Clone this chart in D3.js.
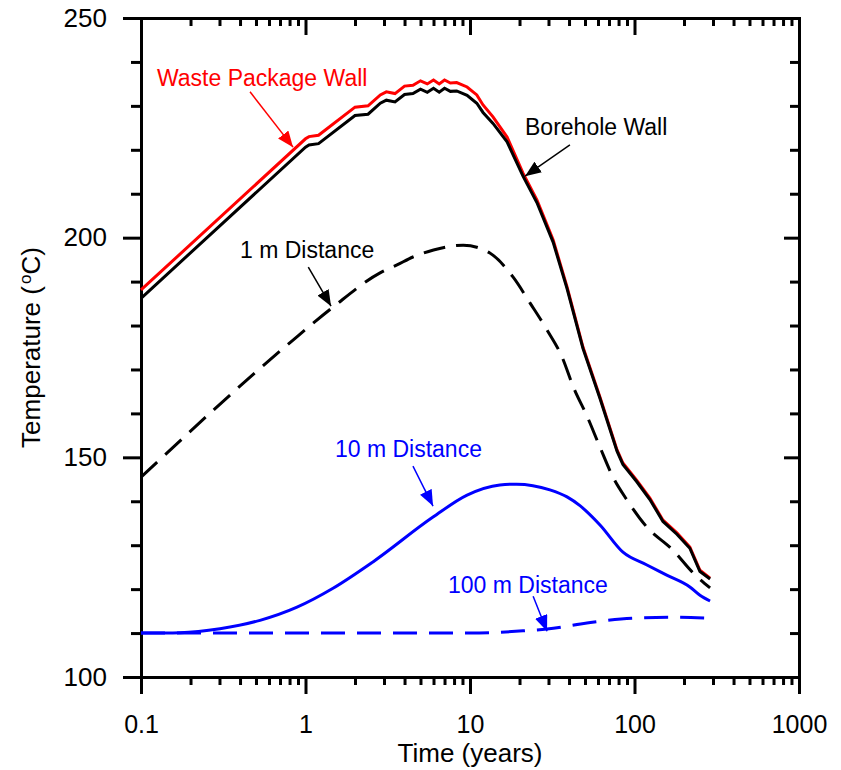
<!DOCTYPE html>
<html>
<head>
<meta charset="utf-8">
<script src="https://cdnjs.cloudflare.com/ajax/libs/d3/7.8.5/d3.min.js"></script>
<style>
  body { margin: 0; background: #fff; }
  svg { display: block; }
  .axis path, .axis line { stroke: #000; stroke-width: 3; }
  .axis path { stroke-linecap: square; }
</style>
</head>
<body>
<div id="chart"></div>
<script>
// tick labels
const timeMajor = [0.1, 1, 10, 100, 1000];
const tempMajor = [100, 150, 200, 250];

// waste package wall and borehole wall share the same time points
const wallTime = [0.1, 1.0, 1.05, 1.2, 2.0, 2.4, 2.85, 3.1, 3.5, 4.0, 4.5, 5.0, 5.5, 6.0, 6.5, 7.0, 7.6, 8.3, 9.6, 11, 12, 13.8, 16.8, 21, 25.5, 32, 38.9, 48.6, 61.7, 78.3, 85, 103, 124, 149, 181, 217, 250, 288];
const packageTemp = [188.1, 222.5, 223.0, 223.3, 229.7, 230.0, 232.5, 233.2, 232.8, 234.5, 234.7, 235.7, 235.0, 235.9, 235.0, 235.9, 235.2, 235.3, 234.3, 232.5, 230.2, 227.5, 222.9, 214.7, 208.6, 199.5, 188.8, 175.1, 163.7, 151.7, 148.7, 144.8, 140.7, 135.7, 132.8, 129.6, 124.3, 122.5];
const boreholeTemp = [186.2, 220.6, 221.1, 221.4, 227.8, 228.1, 230.6, 231.3, 230.9, 232.6, 232.8, 233.8, 233.1, 234.0, 233.1, 234.0, 233.3, 233.4, 232.4, 230.6, 228.5, 226.0, 221.8, 214.0, 208.0, 199.0, 188.4, 174.8, 163.4, 151.4, 148.4, 144.5, 140.4, 135.4, 132.5, 129.3, 124.0, 122.3];

const oneTime = [0.1, 0.84, 1.47, 2.84, 3.6, 4.5, 6.0, 9.1, 13.2, 18.3, 23.2, 29.4, 36.3, 42.5, 51.7, 61.7, 74, 90, 119, 171, 227, 288];
const oneTemp = [145.5, 176.7, 184.2, 192.0, 193.8, 195.6, 197.2, 198.3, 196.5, 191.0, 185.1, 179.0, 172.8, 166.0, 159.2, 152.3, 145.5, 140.3, 134.1, 128.9, 123.7, 120.3];

const tenTime = [0.1, 0.173, 0.302, 0.529, 0.888, 1.47, 2.57, 5.96, 9.6, 15.2, 19.2, 30.6, 38.9, 46.6, 61.7, 85.1, 119, 157, 217, 250, 288];
const tenTemp = [110, 110.1, 111, 112.9, 115.9, 120.2, 126.2, 136.4, 141.4, 143.7, 143.9, 142.6, 141.0, 139.0, 134.6, 128.4, 125.5, 123.2, 120.5, 118.6, 117.3];

const hundredTime = [0.1, 10, 21, 29.4, 51.4, 98, 171, 288];
const hundredTemp = [110, 110, 110.5, 110.9, 112.3, 113.4, 113.6, 113.4];

var margin = { top: 18, right: 42, bottom: 93, left: 141 },
  width = 841 - margin.left - margin.right,
  height = 770 - margin.top - margin.bottom;

var font = "Arial, 'Liberation Sans', sans-serif";

var svg = d3.select("#chart")
  .append("svg")
  .attr("width", 841)
  .attr("height", 770)
  .append("g")
  .attr("transform", "translate(" + margin.left + "," + margin.top + ")");

var x = d3.scaleLog().domain([0.1, 1000]).range([0, width]);
var y = d3.scaleLinear().domain([100, 250]).range([height, 0]);

var timeMinor = x.ticks().filter(function (d) { return timeMajor.indexOf(d) < 0; });
var tempMinor = d3.range(100, 251, 10).filter(function (d) { return tempMajor.indexOf(d) < 0; });

// minor ticks first, then major axes with the frame lines
svg.append("g").attr("class", "axis")
  .attr("transform", "translate(0," + height + ")")
  .call(d3.axisBottom(x).tickValues(timeMinor).tickSize(8).tickFormat(""));
svg.append("g").attr("class", "axis")
  .call(d3.axisTop(x).tickValues(timeMinor).tickSize(-8).tickFormat(""));
svg.append("g").attr("class", "axis")
  .call(d3.axisLeft(y).tickValues(tempMinor).tickSize(10).tickFormat(""));
svg.append("g").attr("class", "axis")
  .attr("transform", "translate(" + width + ",0)")
  .call(d3.axisRight(y).tickValues(tempMinor).tickSize(-9).tickFormat(""));
svg.selectAll(".axis .domain").remove();

var xAxis = svg.append("g").attr("class", "axis")
  .attr("transform", "translate(0," + height + ")")
  .call(d3.axisBottom(x).tickValues(timeMajor).tickSize(17).tickSizeOuter(0).tickPadding(21)
    .tickFormat(function (d) { return String(d); }));
svg.append("g").attr("class", "axis")
  .call(d3.axisTop(x).tickValues(timeMajor).tickSize(-17).tickSizeOuter(0).tickFormat(""));
var yAxis = svg.append("g").attr("class", "axis")
  .call(d3.axisLeft(y).tickValues(tempMajor).tickSize(18).tickSizeOuter(0).tickPadding(16));
svg.append("g").attr("class", "axis")
  .attr("transform", "translate(" + width + ",0)")
  .call(d3.axisRight(y).tickValues(tempMajor).tickSize(-15).tickSizeOuter(0).tickFormat(""));

svg.selectAll(".axis").attr("font-family", font).attr("font-size", 26);
xAxis.attr("font-size", 25);
svg.selectAll(".axis text").attr("fill", "#000");

// axis titles
svg.append("text")
  .attr("x", width / 2)
  .attr("y", 762 - margin.top)
  .attr("text-anchor", "middle")
  .attr("font-family", font)
  .attr("font-size", 26)
  .text("Time (years)");

var yt = svg.append("text")
  .attr("transform", "translate(" + (40 - margin.left) + "," + (height / 2) + ") rotate(-90)")
  .attr("text-anchor", "middle")
  .attr("font-family", font)
  .attr("font-size", 26);
yt.append("tspan").text("Temperature (");
yt.append("tspan").attr("dy", -9).attr("dx", 2).attr("font-size", 17).text("o");
yt.append("tspan").attr("dy", 9).text("C)");

// curves
function series(t, v) {
  return t.map(function (d, i) { return [d, v[i]]; });
}
var lineJag = d3.line()
  .x(function (d) { return x(d[0]); })
  .y(function (d) { return y(d[1]); });
var lineSmooth = d3.line()
  .x(function (d) { return x(d[0]); })
  .y(function (d) { return y(d[1]); })
  .curve(d3.curveMonotoneX);

svg.append("path").datum(series(wallTime, packageTemp))
  .attr("d", lineJag).attr("fill", "none").attr("stroke", "#ff0000").attr("stroke-width", 3);
svg.append("path").datum(series(wallTime, boreholeTemp))
  .attr("d", lineJag).attr("fill", "none").attr("stroke", "#000").attr("stroke-width", 3);
svg.append("path").datum(series(oneTime, oneTemp))
  .attr("d", lineSmooth).attr("fill", "none").attr("stroke", "#000").attr("stroke-width", 3)
  .attr("stroke-dasharray", "22,11");
svg.append("path").datum(series(tenTime, tenTemp))
  .attr("d", lineSmooth).attr("fill", "none").attr("stroke", "#0000ff").attr("stroke-width", 3);
svg.append("path").datum(series(hundredTime, hundredTemp))
  .attr("d", lineSmooth).attr("fill", "none").attr("stroke", "#0000ff").attr("stroke-width", 3)
  .attr("stroke-dasharray", "24,12");

// annotations: text anchor and arrow, in data units
var notes = [
  { text: "Waste Package Wall", color: "#ff0000", at: [0.125, 234.5], from: [0.46, 233.2], to: [0.84, 220.6] },
  { text: "Borehole Wall", color: "#000000", at: [21.6, 223.4], from: [40.5, 221.1], to: [21.6, 214.0] },
  { text: "1 m Distance", color: "#000000", at: [0.40, 195.4], from: [1.04, 193.3], to: [1.43, 184.4] },
  { text: "10 m Distance", color: "#0000ff", at: [1.51, 150.1], from: [4.5, 148.0], to: [5.96, 138.9] },
  { text: "100 m Distance", color: "#0000ff", at: [7.35, 119.1], from: [24.2, 118.4], to: [29.4, 110.4] }
];

var defs = svg.append("defs");
notes.forEach(function (n, i) {
  defs.append("marker")
    .attr("id", "arrow" + i)
    .attr("viewBox", "0 0 16 13")
    .attr("refX", 16).attr("refY", 6.5)
    .attr("markerWidth", 16).attr("markerHeight", 13)
    .attr("markerUnits", "userSpaceOnUse")
    .attr("orient", "auto")
    .append("path")
    .attr("d", "M0,0L16,6.5L0,13Z")
    .attr("fill", n.color);

  svg.append("line")
    .attr("x1", x(n.from[0])).attr("y1", y(n.from[1]))
    .attr("x2", x(n.to[0])).attr("y2", y(n.to[1]))
    .attr("stroke", n.color).attr("stroke-width", 1.5)
    .attr("marker-end", "url(#arrow" + i + ")");

  svg.append("text")
    .attr("x", x(n.at[0])).attr("y", y(n.at[1]))
    .attr("font-family", font)
    .attr("font-size", 23)
    .attr("fill", n.color)
    .text(n.text);
});
</script>
</body>
</html>
